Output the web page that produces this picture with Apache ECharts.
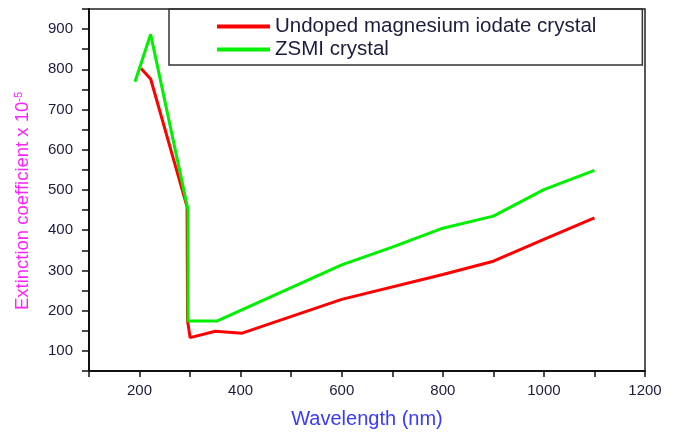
<!DOCTYPE html>
<html>
<head>
<meta charset="utf-8">
<script src="https://cdn.jsdelivr.net/npm/echarts@6/dist/echarts.min.js"></script>
<style>
html,body{margin:0;padding:0;background:#fff;}
#c{width:679px;height:434px;}
</style>
</head>
<body>
<div id="c"></div>
<script>
// Data
const undopedName = 'Undoped magnesium iodate crystal';
const zsmiName = 'ZSMI crystal';
const undopedWl = [203, 222, 294, 295, 300, 350, 403, 600, 800, 900, 1000, 1100];
const undopedK  = [802, 776, 458, 175, 133, 149, 144, 228, 290, 323, 377, 431];
const zsmiWl = [191, 222, 296, 296, 353, 600, 700, 800, 900, 1000, 1100];
const zsmiK  = [769, 887, 450, 174, 174, 314, 358, 405, 435, 501, 549];
const xTickLabels = ['200', '400', '600', '800', '1000', '1200'];
const yTickLabels = ['100', '200', '300', '400', '500', '600', '700', '800', '900'];

const pair = (xs, ys) => xs.map((x, i) => [x, ys[i]]);
const labelColor = '#1c1c3c';
const font = '"Liberation Sans", Arial, sans-serif';

const chart = echarts.init(document.getElementById('c'));
chart.setOption({
  animation: false,
  backgroundColor: '#fff',
  grid: {
    left: 89, right: 34, top: 9, bottom: 61,
    show: true, borderColor: '#222', borderWidth: 1.5, backgroundColor: 'transparent'
  },
  legend: {
    left: 169, top: 9,
    orient: 'vertical',
    padding: [7, 46, 5, 48],
    itemGap: 2,
    itemWidth: 53, itemHeight: 4,
    borderColor: '#333', borderWidth: 1.5,
    icon: 'rect',
    textStyle: { fontFamily: font, fontSize: 20.5, color: labelColor },
    data: [undopedName, zsmiName]
  },
  xAxis: {
    type: 'value', min: 100, max: 1200, interval: 100,
    name: 'Wavelength (nm)', nameLocation: 'middle', nameGap: 38,
    nameTextStyle: { color: '#3a3aff', fontFamily: font, fontSize: 20 },
    axisLine: { show: true, lineStyle: { color: '#111', width: 2 } },
    axisTick: { show: true, inside: false, length: 6, lineStyle: { color: '#111', width: 1.5 } },
    axisLabel: {
      color: labelColor, fontFamily: font, fontSize: 15, margin: 12,
      formatter: v => xTickLabels.includes(String(v)) ? String(v) : ''
    },
    splitLine: { show: false }
  },
  yAxis: {
    type: 'value', min: 50, max: 950, interval: 50,
    name: 'Extinction coefficient x 10{sup|-5}', nameLocation: 'middle', nameGap: 56,
    nameTextStyle: {
      color: '#ff22ff', fontFamily: font, fontSize: 18.5, padding: [0, 22, 0, 0],
      rich: { sup: { color: '#ff22ff', fontFamily: font, fontSize: 11, verticalAlign: 'top', padding: [0, 0, 9, 0] } }
    },
    axisLine: { show: true, lineStyle: { color: '#111', width: 2 } },
    axisTick: { show: true, inside: false, length: 7, lineStyle: { color: '#111', width: 1.5 } },
    axisLabel: {
      color: labelColor, fontFamily: font, fontSize: 15, margin: 16,
      formatter: v => yTickLabels.includes(String(v)) ? String(v) : ''
    },
    splitLine: { show: false }
  },
  series: [
    {
      name: undopedName, type: 'line', data: pair(undopedWl, undopedK),
      showSymbol: false, symbol: 'none', z: 2,
      color: '#ff0000', lineStyle: { color: '#ff0000', width: 3 }
    },
    {
      name: zsmiName, type: 'line', data: pair(zsmiWl, zsmiK),
      showSymbol: false, symbol: 'none', z: 3,
      color: '#00f000', lineStyle: { color: '#00f000', width: 3 }
    }
  ]
});
</script>
</body>
</html>
